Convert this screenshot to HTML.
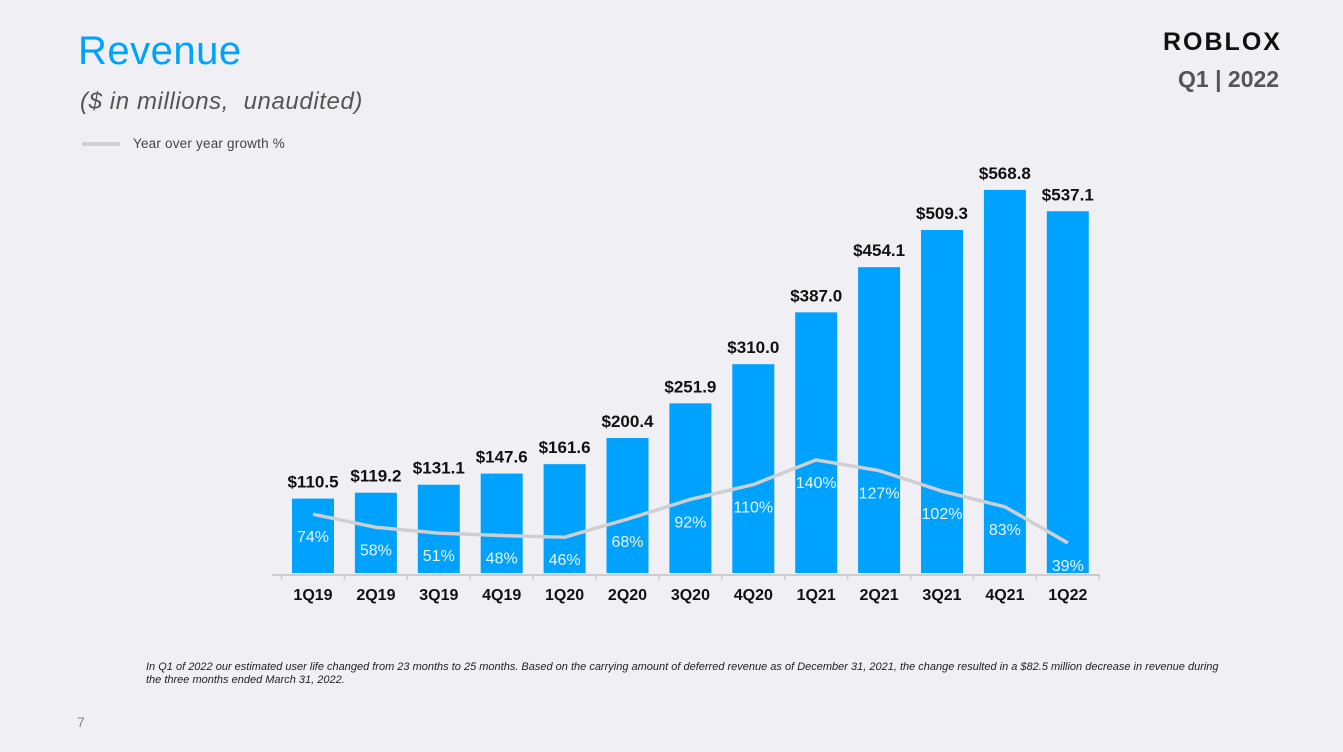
<!DOCTYPE html>
<html><head><meta charset="utf-8"><style>
body{margin:0;width:1343px;height:752px;background:#f0eff4;font-family:"Liberation Sans",sans-serif;overflow:hidden;position:relative}
.a{position:absolute;margin:0}
</style></head><body>
<div class="a" style="left:78px;top:29px;font-size:40px;color:#00a2ff;letter-spacing:0.5px">Revenue</div>
<div class="a" style="left:80px;top:88px;font-size:24px;font-style:italic;color:#555;letter-spacing:0.6px">($ in millions,&nbsp; unaudited)</div>
<div class="a" style="left:1163px;top:28px;font-size:25px;font-weight:900;letter-spacing:2px;color:#111">ROBLOX</div>
<div class="a" style="left:1178px;top:66px;font-size:23px;font-weight:bold;color:#555">Q1 | 2022</div>
<div class="a" style="left:82px;top:142px;width:38px;height:4px;background:#d0d0d4"></div>
<div class="a" style="left:133px;top:136px;font-size:13.5px;color:#444;letter-spacing:0.2px">Year over year growth %</div>
<svg class="a" style="left:0;top:0" width="1343" height="752" id="c"></svg>
<div class="a" style="left:146px;top:661px;font-size:11px;font-style:italic;color:#222;line-height:13px;width:1075px">In Q1 of 2022 our estimated user life changed from 23 months to 25 months. Based on the carrying amount of deferred revenue as of December 31, 2021, the change resulted in a $82.5 million decrease in revenue during the three months ended March 31, 2022.</div>
<div class="a" style="left:77px;top:714px;font-size:14px;color:#888">7</div>
<script>
const categories=["1Q19","2Q19","3Q19","4Q19","1Q20","2Q20","3Q20","4Q20","1Q21","2Q21","3Q21","4Q21","1Q22"];
const revenue=[110.5,119.2,131.1,147.6,161.6,200.4,251.9,310.0,387.0,454.1,509.3,568.8,537.1];
const growth=[74,58,51,48,46,68,92,110,140,127,102,83,39];
const svg=document.getElementById('c');const NS='http://www.w3.org/2000/svg';
const base=575,x0=313,step=62.9,bw=42;
const X=i=>x0+i*step, Y=v=>base-2-v*0.6735, G=g=>575-g*0.822;
function mk(t,a){const e=document.createElementNS(NS,t);for(const k in a)e.setAttribute(k,a[k]);svg.appendChild(e);return e;}
const ax=mk('line',{x1:272,x2:1100,y1:base,y2:base,stroke:'#ccc','stroke-width':2});


for(let i=0;i<=categories.length;i++){const t=mk('line',{x1:X(i)-step/2,x2:X(i)-step/2,y1:base,y2:base+5,stroke:'#ccc','stroke-width':1.5});

}
revenue.forEach((v,i)=>{
const r=mk('rect',{x:X(i)-bw/2,y:Y(v),width:bw,height:base-2-Y(v),fill:'#00a2ff'});


const t=mk('text',{x:X(i),y:Y(v)-11,'text-anchor':'middle','font-size':17,'font-weight':'bold',fill:'#111'});t.textContent='$'+v.toFixed(1);


const c=mk('text',{x:X(i),y:base+25,'text-anchor':'middle','font-size':16,'font-weight':'bold',fill:'#111'});c.textContent=categories[i];


});
const p=mk('polyline',{points:growth.map((g,i)=>X(i)+','+G(g)).join(' '),fill:'none',stroke:'#cfcfd3','stroke-width':3.5,'stroke-linejoin':'round'});


growth.forEach((g,i)=>{const t=mk('text',{x:X(i),y:G(g)+28,'text-anchor':'middle','font-size':16,fill:'#e8f4ff'});t.textContent=g+'%';

});
</script>
</body></html>
